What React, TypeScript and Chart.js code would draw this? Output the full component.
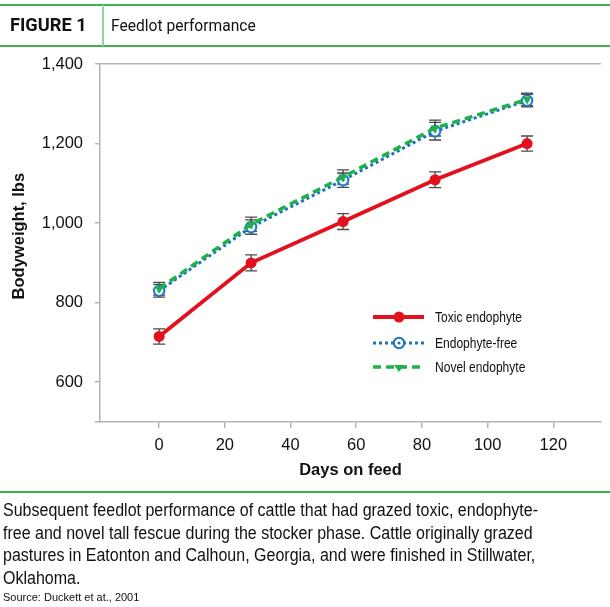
import React, { useEffect, useRef } from "react";
import { Chart, registerables } from "chart.js";

Chart.register(...registerables);

const days = [0, 28, 56, 84, 112];
const toxic = [715, 900, 1004, 1109, 1200];
const toxicErr = [19, 20, 20, 20, 19];
const free = [830, 990, 1108, 1231, 1308];
const freeErr = [16, 18, 18, 22, 16];
const novel = [835, 997, 1116, 1239, 1311];
const novelErr = [16, 18, 18, 20, 16];
const seriesNames = ["Toxic endophyte", "Endophyte-free", "Novel endophyte"];
const xTicks = [0, 20, 40, 60, 80, 100, 120];
const yTicks = [500, 600, 800, 1000, 1200, 1400];

const RED = "#e3101e";
const BLUE = "#1a74b8";
const GREEN = "#1fb04b";
const AXIS = "#b3b3b3";
const HEADER_GREEN = "#3cb44b";
const SANS = "'Liberation Sans', Arial, Helvetica, sans-serif";

function makeTarget(): HTMLCanvasElement {
  const c = document.createElement("canvas");
  c.width = 14;
  c.height = 14;
  const g = c.getContext("2d")!;
  g.fillStyle = "#ffffff";
  g.beginPath();
  g.arc(7, 7, 5.2, 0, Math.PI * 2);
  g.fill();
  g.strokeStyle = BLUE;
  g.lineWidth = 2;
  g.stroke();
  g.fillStyle = BLUE;
  g.beginPath();
  g.arc(7, 7, 1.6, 0, Math.PI * 2);
  g.fill();
  return c;
}

export default function App() {
  const ref = useRef<HTMLCanvasElement | null>(null);

  useEffect(() => {
    document.body.style.margin = "0";
    const target = makeTarget();
    const errs = [toxicErr, freeErr, novelErr];

    const errorBars = {
      id: "errorBars",
      beforeDatasetsDraw(chart: any) {
        const ctx = chart.ctx;
        const ys = chart.scales.y;
        ctx.save();
        ctx.strokeStyle = "#4a4a4a";
        ctx.lineWidth = 1.3;
        chart.data.datasets.forEach((ds: any, i: number) => {
          const meta = chart.getDatasetMeta(i);
          meta.data.forEach((pt: any, j: number) => {
            const v = ds.data[j].y;
            const e = errs[i][j];
            const x = pt.x;
            const y1 = ys.getPixelForValue(v + e);
            const y2 = ys.getPixelForValue(v - e);
            ctx.beginPath();
            ctx.moveTo(x, y1);
            ctx.lineTo(x, y2);
            ctx.moveTo(x - 6, y1);
            ctx.lineTo(x + 6, y1);
            ctx.moveTo(x - 6, y2);
            ctx.lineTo(x + 6, y2);
            ctx.stroke();
          });
        });
        ctx.restore();
      },
    };

    const legendPlugin = {
      id: "customLegend",
      afterDraw(chart: any) {
        const ctx = chart.ctx;
        const rows = [317, 343, 367];
        const styles = [
          { color: RED, width: 3.8, dash: [] as number[] },
          { color: BLUE, width: 3, dash: [3, 3] },
          { color: GREEN, width: 3.5, dash: [8, 5] },
        ];
        ctx.save();
        rows.forEach((y, i) => {
          const s = styles[i];
          ctx.strokeStyle = s.color;
          ctx.lineWidth = s.width;
          ctx.setLineDash(s.dash);
          ctx.beginPath();
          ctx.moveTo(373, y);
          ctx.lineTo(424, y);
          ctx.stroke();
          ctx.setLineDash([]);
          if (i === 0) {
            ctx.fillStyle = RED;
            ctx.beginPath();
            ctx.arc(399, y, 5.5, 0, Math.PI * 2);
            ctx.fill();
          } else if (i === 1) {
            ctx.drawImage(target, 399 - 7, y - 7);
          } else {
            ctx.fillStyle = GREEN;
            ctx.beginPath();
            ctx.moveTo(394, y - 2);
            ctx.lineTo(404, y - 2);
            ctx.lineTo(399, y + 5);
            ctx.closePath();
            ctx.fill();
          }
          ctx.save();
          ctx.translate(435, y + 1);
          ctx.scale(0.83, 1);
          ctx.fillStyle = "#111111";
          ctx.font = `14.5px ${SANS}`;
          ctx.textBaseline = "middle";
          ctx.textAlign = "left";
          ctx.fillText(seriesNames[i], 0, 0);
          ctx.restore();
        });
        ctx.restore();
      },
    };

    const mk = (arr: number[]) => days.map((d, i) => ({ x: d, y: arr[i] }));

    const chart = new Chart(ref.current!, {
      type: "scatter",
      data: {
        datasets: [
          {
            label: seriesNames[0],
            data: mk(toxic),
            showLine: true,
            borderColor: RED,
            backgroundColor: RED,
            borderWidth: 3.8,
            pointRadius: 5.5,
            pointStyle: "circle",
            pointBorderWidth: 0,
            order: 2,
          },
          {
            label: seriesNames[1],
            data: mk(free),
            showLine: true,
            borderColor: BLUE,
            backgroundColor: BLUE,
            borderWidth: 3,
            borderDash: [3, 3],
            pointStyle: target as any,
            pointRadius: 6,
            order: 1,
          },
          {
            label: seriesNames[2],
            data: mk(novel),
            showLine: true,
            borderColor: GREEN,
            backgroundColor: GREEN,
            borderWidth: 3.5,
            borderDash: [8, 5],
            pointStyle: "triangle",
            rotation: 180,
            pointRadius: 5,
            pointBorderWidth: 0,
            order: 0,
          },
        ],
      },
      options: {
        animation: false,
        responsive: false,
        maintainAspectRatio: false,
        layout: { padding: { left: 0, top: 64, right: 7, bottom: 125 } },
        plugins: { legend: { display: false }, tooltip: { enabled: false } },
        scales: {
          x: {
            type: "linear",
            min: -18,
            max: 134.5,
            afterBuildTicks: (axis: any) => {
              axis.ticks = xTicks.map((v) => ({ value: v }));
            },
            afterFit: (axis: any) => {
              axis.height = 60;
            },
            border: { color: AXIS, width: 1.5 },
            grid: { drawOnChartArea: false, tickLength: 6, color: AXIS, tickColor: AXIS, lineWidth: 1.5 },
            ticks: {
              color: "#111111",
              font: { family: SANS, size: 16.5 },
              padding: 8,
              maxRotation: 0,
              autoSkip: false,
            },
            title: {
              display: true,
              text: "Days on feed",
              color: "#111111",
              font: { family: SANS, size: 16.5, weight: "bold" },
              padding: { top: 0, bottom: 2 },
            },
          },
          y: {
            type: "linear",
            min: 500,
            max: 1400,
            afterBuildTicks: (axis: any) => {
              axis.ticks = yTicks.map((v) => ({ value: v }));
            },
            afterFit: (axis: any) => {
              axis.width = 100;
            },
            border: { color: AXIS, width: 1.5 },
            grid: {
              drawOnChartArea: true,
              tickLength: 5,
              color: (c: any) => (c.tick && c.tick.value === 1400 ? AXIS : "rgba(0,0,0,0)"),
              tickColor: AXIS,
              lineWidth: 1.5,
            },
            ticks: {
              color: "#111111",
              font: { family: SANS, size: 16.5 },
              padding: 12,
              callback: (v: any) => (v === 500 ? "" : Number(v).toLocaleString("en-US")),
            },
            title: {
              display: true,
              text: "   Bodyweight, lbs",
              color: "#111111",
              font: { family: SANS, size: 16.5, weight: "bold" },
              padding: { top: 10, bottom: 0 },
            },
          },
        },
      },
      plugins: [errorBars, legendPlugin],
    });
    return () => chart.destroy();
  }, []);

  return (
    <div style={{ position: "relative", width: 610, height: 607, background: "#fff", overflow: "hidden" }}>
      <canvas ref={ref} width={610} height={607} style={{ position: "absolute", left: 0, top: 0 }} />
      <div style={{ position: "absolute", left: 0, top: 4, width: 610, height: 2, background: HEADER_GREEN }} />
      <div style={{ position: "absolute", left: 0, top: 45, width: 610, height: 2, background: HEADER_GREEN }} />
      <div style={{ position: "absolute", left: 102, top: 5, width: 2, height: 41, background: "#8fd69a" }} />
      <div
        style={{
          position: "absolute",
          left: 10,
          top: 14,
          fontFamily: "Roboto, sans-serif",
          fontWeight: 700,
          fontSize: 19,
          lineHeight: "22px",
          color: "#111",
          transform: "scaleX(0.96)",
          transformOrigin: "left center",
        }}
      >
        FIGURE 1
      </div>
      <div
        style={{
          position: "absolute",
          left: 111,
          top: 16,
          fontFamily: "Roboto, sans-serif",
          fontSize: 16,
          lineHeight: "20px",
          color: "#111",
          transform: "scaleX(0.975)",
          transformOrigin: "left center",
        }}
      >
        Feedlot performance
      </div>
      <div style={{ position: "absolute", left: 0, top: 491, width: 610, height: 2, background: HEADER_GREEN }} />
      <div
        style={{
          position: "absolute",
          left: 3,
          top: 499,
          width: 640,
          fontFamily: SANS,
          fontSize: 17.5,
          lineHeight: "22.7px",
          color: "#111",
          whiteSpace: "nowrap",
          transform: "scaleX(0.915)",
          transformOrigin: "left top",
        }}
      >
        Subsequent feedlot performance of cattle that had grazed toxic, endophyte-
        <br />
        free and novel tall fescue during the stocker phase. Cattle originally grazed
        <br />
        pastures in Eatonton and Calhoun, Georgia, and were finished in Stillwater,
        <br />
        Oklahoma.
      </div>
      <div
        style={{
          position: "absolute",
          left: 3,
          top: 591,
          fontFamily: SANS,
          fontSize: 11,
          lineHeight: "13px",
          color: "#111",
        }}
      >
        Source: Duckett et at., 2001
      </div>
    </div>
  );
}
